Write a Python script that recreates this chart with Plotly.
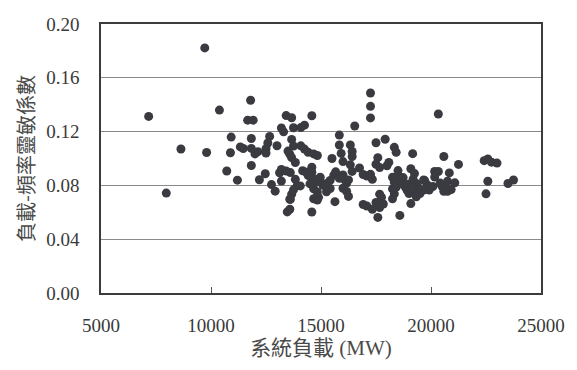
import plotly.graph_objects as go

# System load (MW)
x_load = [
    7167, 7967, 8633, 9717, 9800, 10383, 10917, 10883, 10717, 11200,
    11333, 11467, 11800, 11667, 11917, 11833, 11833, 12000, 12133, 11833,
    12200, 12667, 12583, 12500, 12500, 12467, 12750, 12917, 13000, 13117,
    13200, 13200, 13200, 13300, 13417, 13667, 13750, 13500, 13583, 13667,
    13667, 13750, 13417, 13833, 13583, 13667, 13583, 13467, 13750, 13917,
    14083, 14250, 14083, 14250, 14417, 14167, 14333, 14417, 14583, 14667,
    14833, 14583, 14500, 14583, 14667, 14667, 14833, 14667, 14833, 14583,
    14917, 15083, 15250, 15250, 15417, 15500, 15583, 15633, 15833, 15833,
    15917, 16000, 15667, 15833, 16000, 16083, 16167, 16250, 16000, 16167,
    16250, 16333, 16417, 16417, 16333, 16417, 16533, 16750, 16917, 17083,
    16917, 17083, 17250, 17250, 17250, 17250, 17333, 17333, 17500, 17583,
    17500, 17583, 17500, 17667, 17667, 17750, 17833, 17667, 17917, 18000,
    18083, 18333, 18417, 18250, 18333, 18417, 18250, 18333, 18250, 18500,
    18583, 18667, 18750, 18833, 18917, 18583, 19083, 19167, 19250, 19000,
    19083, 19167, 19333, 19417, 19500, 19333, 19667, 19833, 19667, 19917,
    20083, 20167, 20333, 20333, 20417, 20500, 20667, 20750, 20583, 20750,
    20917, 20583, 20833, 21083, 21250, 22417, 22583, 22750, 23000, 22583,
    22500, 23500, 23750,
    18358, 18430, 18733, 18960, 19186, 19412, 19715, 19941, 20168,
    13606, 13833, 14059, 14512, 14738, 14964, 15190, 15416, 14887, 13606,
]

# Load-frequency sensitivity coefficient
y_coef = [
    0.1313, 0.0743, 0.1071, 0.1822, 0.1045, 0.1360, 0.1159, 0.1043, 0.0907, 0.0839,
    0.1086, 0.1074, 0.1433, 0.1285, 0.1285, 0.1149, 0.1075, 0.1034, 0.1051, 0.0948,
    0.0842, 0.1164, 0.1115, 0.1073, 0.1041, 0.0887, 0.0806, 0.0757, 0.1095, 0.0894,
    0.0919, 0.0832, 0.1227, 0.1198, 0.1319, 0.1303, 0.1229, 0.1055, 0.1031, 0.1006,
    0.1142, 0.1093, 0.0907, 0.0970, 0.0697, 0.0735, 0.0623, 0.0603, 0.0767, 0.0797,
    0.1230, 0.1248, 0.1094, 0.1070, 0.1046, 0.0909, 0.0897, 0.0873, 0.1318, 0.1034,
    0.1022, 0.0935, 0.0811, 0.0898, 0.0849, 0.0775, 0.0751, 0.0701, 0.0691, 0.0602,
    0.0837, 0.0801, 0.0814, 0.0752, 0.0777, 0.1000, 0.0876, 0.0679, 0.1174, 0.1100,
    0.1038, 0.0977, 0.0901, 0.0853, 0.0878, 0.0841, 0.0817, 0.0841, 0.0779, 0.0755,
    0.0718, 0.1101, 0.1052, 0.1015, 0.0953, 0.0904, 0.1242, 0.0929, 0.0881, 0.0869,
    0.0658, 0.0647, 0.1487, 0.1388, 0.1302, 0.0882, 0.0845, 0.0623, 0.0673, 0.0562,
    0.1117, 0.1006, 0.0957, 0.0933, 0.0735, 0.0711, 0.0662, 0.0636, 0.1143, 0.0946,
    0.0971, 0.1083, 0.1046, 0.0860, 0.0823, 0.0787, 0.0774, 0.0737, 0.0700, 0.0910,
    0.0861, 0.0824, 0.0812, 0.0788, 0.0763, 0.0577, 0.0924, 0.1036, 0.0888, 0.0739,
    0.0665, 0.0764, 0.0814, 0.0777, 0.0740, 0.0715, 0.0840, 0.0803, 0.0766, 0.0766,
    0.0792, 0.0903, 0.0903, 0.1331, 0.0817, 0.0793, 0.0781, 0.0831, 0.0756, 0.0756,
    0.0769, 0.1015, 0.0893, 0.0819, 0.0956, 0.0984, 0.0997, 0.0973, 0.0966, 0.0831,
    0.0737, 0.0814, 0.0840,
    0.0857, 0.0795, 0.0858, 0.0809, 0.0847, 0.0785, 0.0836, 0.0787, 0.0862,
    0.0895, 0.0845, 0.0796, 0.0872, 0.0823, 0.0861, 0.0799, 0.0837, 0.0711, 0.0696,
]

y_ticks = [0.00, 0.04, 0.08, 0.12, 0.16, 0.20]
x_ticks = [5000, 10000, 15000, 20000, 25000]

x_title = "系統負載 (MW)"
y_title = "負載-頻率靈敏係數"

serif = "Liberation Serif, Noto Sans CJK TC, serif"
text_color = "#3a3a3a"

fig = go.Figure(
    go.Scatter(
        x=x_load, y=y_coef, mode="markers",
        marker=dict(size=9, color="#3a3a41", line=dict(width=0)),
        showlegend=False,
    )
)

fig.update_layout(
    width=577, height=370,
    margin=dict(l=101, r=29, t=24, b=77),
    paper_bgcolor="white", plot_bgcolor="white",
    font=dict(family=serif, color=text_color, size=19),
)

fig.update_xaxes(
    range=[5000, 25000], tickvals=x_ticks, ticktext=[str(v) for v in x_ticks],
    showgrid=False, zeroline=False,
    showline=True, mirror=True, linecolor="#3c3c3c", linewidth=1.5,
    ticks="inside", ticklen=6, tickcolor="#555", tickwidth=1,
    ticklabelstandoff=14,
    tickfont=dict(family=serif, size=19, color=text_color),
    title=dict(text=x_title, standoff=4,
               font=dict(family="Liberation Serif, Noto Sans CJK TC", size=21, color="#4a4a4a")),
)

fig.update_yaxes(
    range=[0, 0.2], tickvals=y_ticks, ticktext=[f"{v:.2f}" for v in y_ticks],
    showgrid=True, gridcolor="#8a8a8a", gridwidth=1, zeroline=False,
    showline=True, mirror=True, linecolor="#3c3c3c", linewidth=1.5,
    ticks="", ticklabelstandoff=16,
    tickfont=dict(family=serif, size=19, color=text_color),
    title=dict(text=y_title, standoff=6,
               font=dict(family="Noto Sans CJK TC", size=20, color="#4a4a4a")),
)

fig.write_html("out.html")
